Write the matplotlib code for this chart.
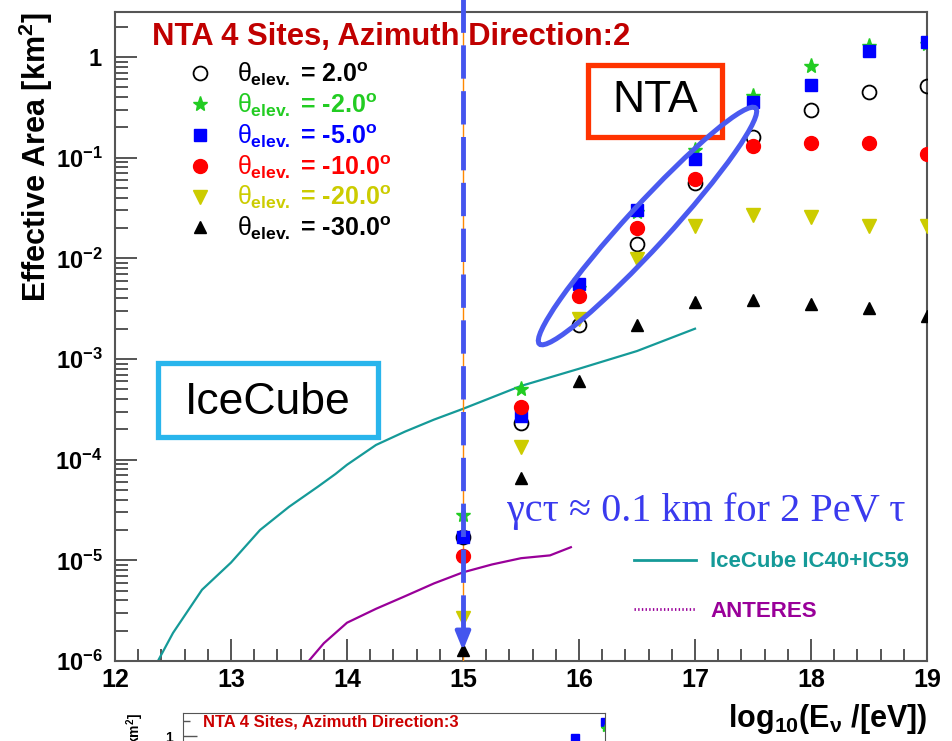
import math
import matplotlib.pyplot as plt
from matplotlib.lines import Line2D
from matplotlib.patches import Ellipse, Rectangle
import matplotlib.ticker as mticker

plt.rcParams['font.family'] = ['Liberation Sans', 'DejaVu Sans']
plt.rcParams['mathtext.fontset'] = 'custom'
plt.rcParams['mathtext.rm'] = 'Liberation Sans'
plt.rcParams['mathtext.it'] = 'Liberation Sans'
plt.rcParams['mathtext.bf'] = 'Liberation Sans:bold'
plt.rcParams['lines.scale_dashes'] = False

# NTA effective area, azimuth direction 2 (km^2) vs log10(E/eV)
log_e = [15.0, 15.5, 16.0, 16.5, 17.0, 17.5, 18.0, 18.5, 19.0]
elev_labels = ['2.0', '-2.0', '-5.0', '-10.0', '-20.0', '-30.0']
area_p2 = [1.7e-5, 2.3e-4, 2.2e-3, 0.014, 0.056, 0.16, 0.30, 0.45, 0.51]
area_m2 = [2.8e-5, 5.0e-4, 5.1e-3, 0.029, 0.12, 0.41, 0.81, 1.3, 1.35]
area_m5 = [1.7e-5, 2.7e-4, 5.6e-3, 0.030, 0.097, 0.36, 0.53, 1.15, 1.4]
area_m10 = [1.1e-5, 3.3e-4, 4.2e-3, 0.020, 0.061, 0.13, 0.14, 0.14, 0.11]
area_m20 = [2.7e-6, 1.35e-4, 2.5e-3, 9.8e-3, 0.021, 0.027, 0.026, 0.021, 0.021]
area_m30 = [1.3e-6, 6.6e-5, 6.1e-4, 2.2e-3, 3.7e-3, 3.9e-3, 3.5e-3, 3.2e-3, 2.7e-3]

# IceCube IC40+IC59 and ANTARES curves
ic_e = [12.37, 12.5, 12.75, 13.0, 13.25, 13.5, 13.75, 13.9, 14.0, 14.25, 14.5, 14.75, 15.0,
        15.5, 16.0, 16.5, 17.0]
ic_area = [1e-6, 1.9e-6, 5.1e-6, 9.5e-6, 2.0e-5, 3.4e-5, 5.4e-5, 7.2e-5, 8.9e-5, 1.4e-4,
           1.9e-4, 2.5e-4, 3.2e-4, 5.4e-4, 8.0e-4, 1.2e-3, 2.0e-3]
an_e = [13.67, 13.8, 14.0, 14.25, 14.5, 14.75, 15.0, 15.25, 15.5, 15.75, 15.93]
an_area = [1e-6, 1.5e-6, 2.4e-6, 3.3e-6, 4.4e-6, 5.9e-6, 7.6e-6, 9.1e-6, 1.05e-5, 1.12e-5, 1.35e-5]

# next panel (direction 3), only its top edge shows
p3_e = [18.5, 19.0]
p3_m5 = [0.95, 1.85]
p3_m2 = [0.7, 1.45]

tau_energy = 15.0

series = [
    (area_p2, dict(marker='o', mfc='none', mec='black', ms=10, mew=1.3), 'black'),
    (area_m2, dict(marker='*', color='#22cc22', ms=11), '#22cc22'),
    (area_m5, dict(marker='s', color='#0000ff', ms=9), '#0000ff'),
    (area_m10, dict(marker='o', color='#ff0000', ms=10), '#ff0000'),
    (area_m20, dict(marker='v', color='#cccc00', ms=10), '#cccc00'),
    (area_m30, dict(marker='^', color='black', ms=9), 'black'),
]

W, H = 953, 741
fig = plt.figure(figsize=(W / 100, H / 100), dpi=100)
ax = fig.add_axes([115 / W, 1 - 661 / H, 812 / W, 649 / H])

ax.plot(ic_e, ic_area, color='#159a98', lw=1.6, zorder=2)
ax.plot(an_e, an_area, color='#990099', lw=1.6, zorder=2)

handles = []
labels = []
for (vals, style, tcol), lab in zip(series, elev_labels):
    ax.plot(log_e, vals, ls='none', zorder=4, **style)
    handles.append(Line2D([], [], ls='none', **style))
    labels.append(r'$\theta_{\mathbf{elev.}}$ = ' + lab + r'$^{\mathbf{o}}$')

ax.set_yscale('log')
ax.set_xlim(12, 19)
ax.set_ylim(1e-6, 2.8)

def ylab(v, pos):
    if abs(v - 1) < 1e-9:
        return r'$\mathbf{1}$'
    return r'$\mathbf{10^{%d}}$' % round(math.log10(v))

ax.yaxis.set_major_locator(mticker.LogLocator(base=10, numticks=12))
ax.yaxis.set_minor_locator(mticker.LogLocator(base=10, subs=range(2, 10), numticks=12))
ax.yaxis.set_major_formatter(mticker.FuncFormatter(ylab))
ax.yaxis.set_minor_formatter(mticker.NullFormatter())
ax.xaxis.set_major_locator(mticker.MultipleLocator(1))
ax.xaxis.set_minor_locator(mticker.MultipleLocator(0.2))
ax.tick_params(which='both', direction='in', color='#555555', width=1.4)
ax.tick_params(which='major', length=16)
ax.tick_params(which='minor', length=9)
ax.tick_params(axis='y', labelsize=17, pad=9)
ax.tick_params(axis='x', labelsize=18, pad=5)
for lab in ax.get_xticklabels():
    lab.set_fontweight('bold')
for sp in ax.spines.values():
    sp.set_color('#555555')
    sp.set_linewidth(1.5)

ax.set_ylabel(r'Effective Area [km$^\mathbf{2}$]', fontsize=22, fontweight='bold', loc='top', labelpad=0)
ax.set_xlabel(r'$\mathbf{log_{10}(E_{\nu}\ /[eV])}$', fontsize=22, loc='right', labelpad=7)

ax.text(152 / W, 1 - 37 / H, 'NTA 4 Sites, Azimuth Direction:2', transform=fig.transFigure,
        color='#c00000', fontsize=22.3, fontweight='bold', va='center', ha='left')

leg1 = ax.legend(handles, labels, loc='upper left', bbox_to_anchor=(0.062, 0.96), frameon=False,
                 prop={'weight': 'bold', 'size': 18}, labelspacing=0.12, handlelength=1.0,
                 handletextpad=0.95, labelcolor=[s[2] for s in series])
ax.add_artist(leg1)

h2 = [Line2D([], [], color='#159a98', lw=2), Line2D([], [], color='#990099', lw=2, ls=':')]
leg2 = ax.legend(h2, ['IceCube IC40+IC59', 'ANTERES'], loc='lower right', bbox_to_anchor=(1.003, 0.03),
                 frameon=False, handlelength=2.8, handletextpad=0.65, labelspacing=1.27,
                 labelcolor=['#159a98', '#990099'], prop={'weight': 'bold', 'size': 16})

# tau decay energy marker
ax.axvline(tau_energy, color='#ff8800', lw=1, zorder=3)
xt = ax.get_xaxis_transform()
ax.plot([tau_energy, tau_energy], [1.02, 0.035], transform=xt, color='#4455ee', lw=3.5,
        dashes=(24, 9), clip_on=False, zorder=5)
ax.annotate('', xy=(tau_energy, 0.012), xytext=(tau_energy, 0.05), xycoords=xt, textcoords=xt,
            arrowprops=dict(arrowstyle='-|>,head_width=0.45,head_length=1.1', color='#4455ee', lw=3),
            zorder=5)

ax.text(507 / W, 1 - 511 / H, 'γcτ ≈ 0.1 km for 2 PeV τ', transform=fig.transFigure,
        family=['Liberation Serif', 'DejaVu Serif'], fontsize=29, color='#3a3aee', va='center')

# annotation boxes
fig.add_artist(Rectangle((588 / W, 1 - 137 / H), 134 / W, 72 / H, transform=fig.transFigure,
                         fill=False, ec='#ff3300', lw=3.8))
fig.text(655 / W, 1 - 101 / H, 'NTA', fontsize=32, ha='center', va='center')
fig.add_artist(Rectangle((158 / W, 1 - 437 / H), 220 / W, 74 / H, transform=fig.transFigure,
                         fill=False, ec='#29b5ec', lw=3.8))
fig.text(268 / W, 1 - 402 / H, 'IceCube', fontsize=32, ha='center', va='center')

fig.add_artist(Ellipse((6.475, 7.41 - 2.26), 3.2, 0.42, angle=47.5, transform=fig.dpi_scale_trans,
                       fill=False, ec='#4a5af0', lw=3.6, zorder=6))

# top of the next panel
ax2 = fig.add_axes([183 / W, 1 - 713 / H - 338 / H, 422 / W, 338 / H])
ax2.set_yscale('log')
ax2.set_xlim(12, 19)
ax2.set_ylim(1e-6, 2.8)
ax2.plot(p3_e, p3_m5, ls='none', marker='s', color='#0000ff', ms=6)
ax2.plot(p3_e, p3_m2, ls='none', marker='*', color='#22cc22', ms=6)
ax2.set_xticks([])
ax2.yaxis.set_major_locator(mticker.FixedLocator([1]))
ax2.yaxis.set_minor_locator(mticker.FixedLocator([2]))
ax2.yaxis.set_major_formatter(mticker.FuncFormatter(ylab))
ax2.tick_params(which='both', direction='in', color='#555555', width=1)
ax2.tick_params(which='major', length=10, labelsize=10, pad=6)
ax2.tick_params(which='minor', length=5)
for sp in ax2.spines.values():
    sp.set_color('#555555')
ax2.set_ylabel(r'Effective Area [km$^\mathbf{2}$]', fontsize=10, fontweight='bold', loc='top', labelpad=14)
ax2.text(0.048, 0.972, 'NTA 4 Sites, Azimuth Direction:3', transform=ax2.transAxes,
         color='#cc0000', fontsize=12, fontweight='bold', va='center')

fig.savefig('out.png', dpi=100)
